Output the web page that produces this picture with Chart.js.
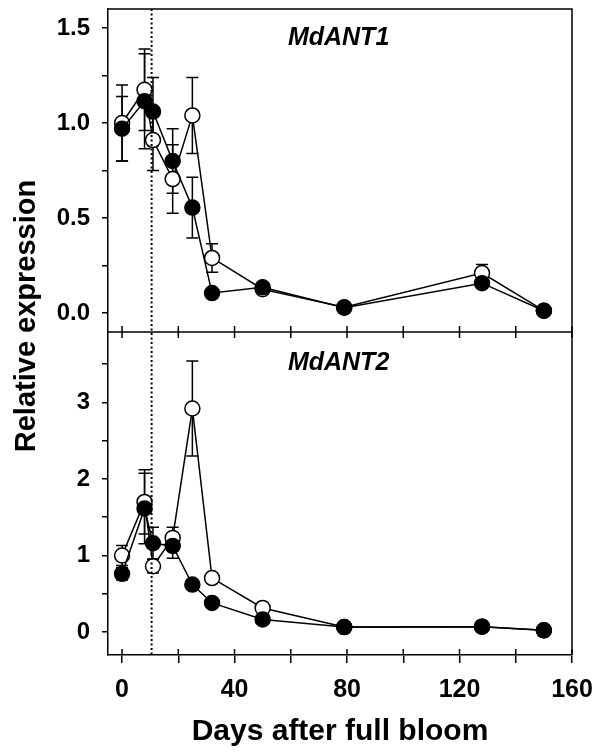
<!DOCTYPE html>
<html>
<head>
<meta charset="utf-8">
<title>MdANT1 / MdANT2 expression</title>
<script src="https://cdn.jsdelivr.net/npm/chart.js@4.4.1/dist/chart.umd.min.js"></script>
<style>
  body { margin: 0; background: #fff; }
  canvas { display: block; }
</style>
</head>
<body>
<canvas id="chart" width="600" height="754"></canvas>
<script>
const FONT = '"Liberation Sans", Arial, sans-serif';

// sampling days (days after full bloom)
const days = [0, 8, 11, 18, 25, 32, 50, 79, 128, 150];

// MdANT1 (top panel)
const ant1Open = [1.0, 1.175, 0.91, 0.705, 1.04, 0.29, 0.125, 0.03, 0.21, 0.012];
const ant1OpenErr = [0.2, 0.215, 0.16, 0.18, 0.2, 0.075, 0.02, 0.01, 0.045, 0.005];
const ant1Filled = [0.97, 1.115, 1.06, 0.80, 0.555, 0.105, 0.135, 0.028, 0.157, 0.012];
const ant1FilledErr = [0.17, 0.25, 0.18, 0.17, 0.16, 0.02, 0.02, 0.01, 0.02, 0.005];

// MdANT2 (bottom panel)
const ant2Open = [1.0, 1.70, 0.86, 1.23, 2.92, 0.705, 0.315, 0.065, 0.07, 0.022];
const ant2OpenErr = [0.13, 0.42, 0.09, 0.14, 0.62, 0.05, 0.03, 0.01, 0.01, 0.01];
const ant2Filled = [0.76, 1.615, 1.16, 1.125, 0.62, 0.38, 0.165, 0.065, 0.07, 0.022];
const ant2FilledErr = [0.08, 0.46, 0.21, 0.16, 0.05, 0.04, 0.03, 0.01, 0.01, 0.01];

// ticks
const xTicks = [0, 20, 40, 60, 80, 100, 120, 140, 160];
const ant1Ticks = [0, 0.25, 0.5, 0.75, 1.0, 1.25, 1.5];
const ant2Ticks = [0, 0.5, 1, 1.5, 2, 2.5, 3, 3.5];

const markerDay = 10.5; // dotted reference line

const toPoints = (ys) => days.map((d, i) => ({ x: d, y: ys[i] }));

function series(label, ys, errs, axis, filled) {
  return {
    label: label,
    data: toPoints(ys),
    errors: errs,
    yAxisID: axis,
    borderColor: '#000',
    borderWidth: 1.5,
    pointRadius: 7.5,
    pointBorderWidth: 1.5,
    pointBorderColor: '#000',
    pointBackgroundColor: filled ? '#000' : '#fff',
    showLine: true,
    order: filled ? 0 : 1
  };
}

const errorBars = {
  id: 'errorBars',
  beforeDatasetsDraw(chart) {
    const ctx = chart.ctx;
    ctx.save();
    ctx.strokeStyle = '#000';
    ctx.lineWidth = 1.5;
    chart.data.datasets.forEach((ds, i) => {
      const meta = chart.getDatasetMeta(i);
      const ys = chart.scales[ds.yAxisID];
      meta.data.forEach((pt, j) => {
        const v = ds.data[j].y, e = ds.errors[j];
        const top = ys.getPixelForValue(v + e);
        const bot = ys.getPixelForValue(v - e);
        ctx.beginPath();
        ctx.moveTo(pt.x, top); ctx.lineTo(pt.x, bot);
        ctx.moveTo(pt.x - 6, top); ctx.lineTo(pt.x + 6, top);
        ctx.moveTo(pt.x - 6, bot); ctx.lineTo(pt.x + 6, bot);
        ctx.stroke();
      });
    });
    ctx.restore();
  }
};

const frame = {
  id: 'frame',
  afterDraw(chart) {
    const ctx = chart.ctx;
    const area = chart.chartArea;
    const x = chart.scales.x;
    const top = chart.scales.yTop;
    const bot = chart.scales.yBot;
    const mid = top.bottom;
    ctx.save();

    // dotted line
    ctx.strokeStyle = '#000';
    ctx.lineWidth = 2;
    ctx.setLineDash([2, 2.5]);
    const dx = x.getPixelForValue(markerDay);
    ctx.beginPath();
    ctx.moveTo(dx, area.top); ctx.lineTo(dx, area.bottom);
    ctx.stroke();
    ctx.setLineDash([]);

    // box + panel divider
    ctx.lineWidth = 1.5;
    ctx.beginPath();
    ctx.moveTo(area.left, area.top); ctx.lineTo(area.right, area.top);
    ctx.lineTo(area.right, area.bottom);
    ctx.moveTo(area.left, mid); ctx.lineTo(area.right, mid);
    ctx.stroke();

    // inner x ticks
    ctx.beginPath();
    xTicks.forEach(v => {
      const px = x.getPixelForValue(v);
      ctx.moveTo(px, mid - 6); ctx.lineTo(px, mid + 6);
      ctx.moveTo(px, area.bottom); ctx.lineTo(px, area.bottom - 6);
    });
    ctx.stroke();

    // panel labels
    ctx.fillStyle = '#000';
    ctx.textAlign = 'center';
    ctx.textBaseline = 'middle';
    ctx.font = `italic bold 25px ${FONT}`;
    ctx.fillText('MdANT1', x.getPixelForValue(77), top.getPixelForValue(1.446));
    ctx.fillText('MdANT2', x.getPixelForValue(77), bot.getPixelForValue(3.52));

    // shared y title
    ctx.font = `bold 29px ${FONT}`;
    ctx.textBaseline = 'alphabetic';
    ctx.translate(35, 316);
    ctx.rotate(-Math.PI / 2);
    ctx.fillText('Relative expression', 0, 0);
    ctx.restore();
  }
};

const yTickFont = { family: FONT, size: 24, weight: 'bold' };
const xTickFont = { family: FONT, size: 25, weight: 'bold' };
const axisGrid = { drawOnChartArea: false, color: '#000', lineWidth: 1.5, tickLength: 6 };
const axisBorder = { color: '#000', width: 1.5 };
const fixY = (s) => { s.width = 108; s.paddingTop = 0; s.paddingBottom = 0; };
const near = (a, b) => Math.abs(a - b) < 1e-6;

new Chart(document.getElementById('chart'), {
  type: 'scatter',
  data: {
    datasets: [
      series('MdANT1 open', ant1Open, ant1OpenErr, 'yTop', false),
      series('MdANT1 filled', ant1Filled, ant1FilledErr, 'yTop', true),
      series('MdANT2 open', ant2Open, ant2OpenErr, 'yBot', false),
      series('MdANT2 filled', ant2Filled, ant2FilledErr, 'yBot', true)
    ]
  },
  options: {
    responsive: false,
    animation: false,
    layout: { padding: { top: 8, right: 28, bottom: 0, left: 0 } },
    plugins: { legend: { display: false }, tooltip: { enabled: false } },
    scales: {
      x: {
        type: 'linear',
        min: -5,
        max: 160,
        afterBuildTicks: (s) => { s.ticks = xTicks.map(v => ({ value: v })); },
        afterFit: (s) => { s.height = 99; s.paddingLeft = 0; s.paddingRight = 0; },
        ticks: {
          autoSkip: false, maxRotation: 0, padding: 12, color: '#000', font: xTickFont,
          callback: (v) => (v % 40 === 0 ? String(v) : '')
        },
        grid: { drawOnChartArea: false, color: '#000', lineWidth: 1.5, tickLength: 8 },
        border: axisBorder,
        title: {
          display: true, text: 'Days after full bloom', color: '#000',
          font: { family: FONT, size: 30, weight: 'bold' },
          padding: { top: 3, bottom: 4 }
        }
      },
      yBot: {
        type: 'linear',
        position: 'left',
        stack: 'panels',
        stackWeight: 1,
        min: -0.3,
        max: 3.92,
        afterBuildTicks: (s) => { s.ticks = ant2Ticks.map(v => ({ value: v })); },
        afterFit: fixY,
        ticks: {
          autoSkip: false, padding: 12, color: '#000', font: yTickFont,
          callback: (v) => (near(v, Math.round(v)) ? String(Math.round(v)) : '')
        },
        grid: axisGrid,
        border: axisBorder
      },
      yTop: {
        type: 'linear',
        position: 'left',
        stack: 'panels',
        stackWeight: 1,
        min: -0.1,
        max: 1.6,
        afterBuildTicks: (s) => { s.ticks = ant1Ticks.map(v => ({ value: v })); },
        afterFit: fixY,
        ticks: {
          autoSkip: false, padding: 12, color: '#000', font: yTickFont,
          callback: (v) => (near(v * 2, Math.round(v * 2)) ? v.toFixed(1) : '')
        },
        grid: axisGrid,
        border: axisBorder
      }
    }
  },
  plugins: [errorBars, frame]
});
</script>
</body>
</html>
